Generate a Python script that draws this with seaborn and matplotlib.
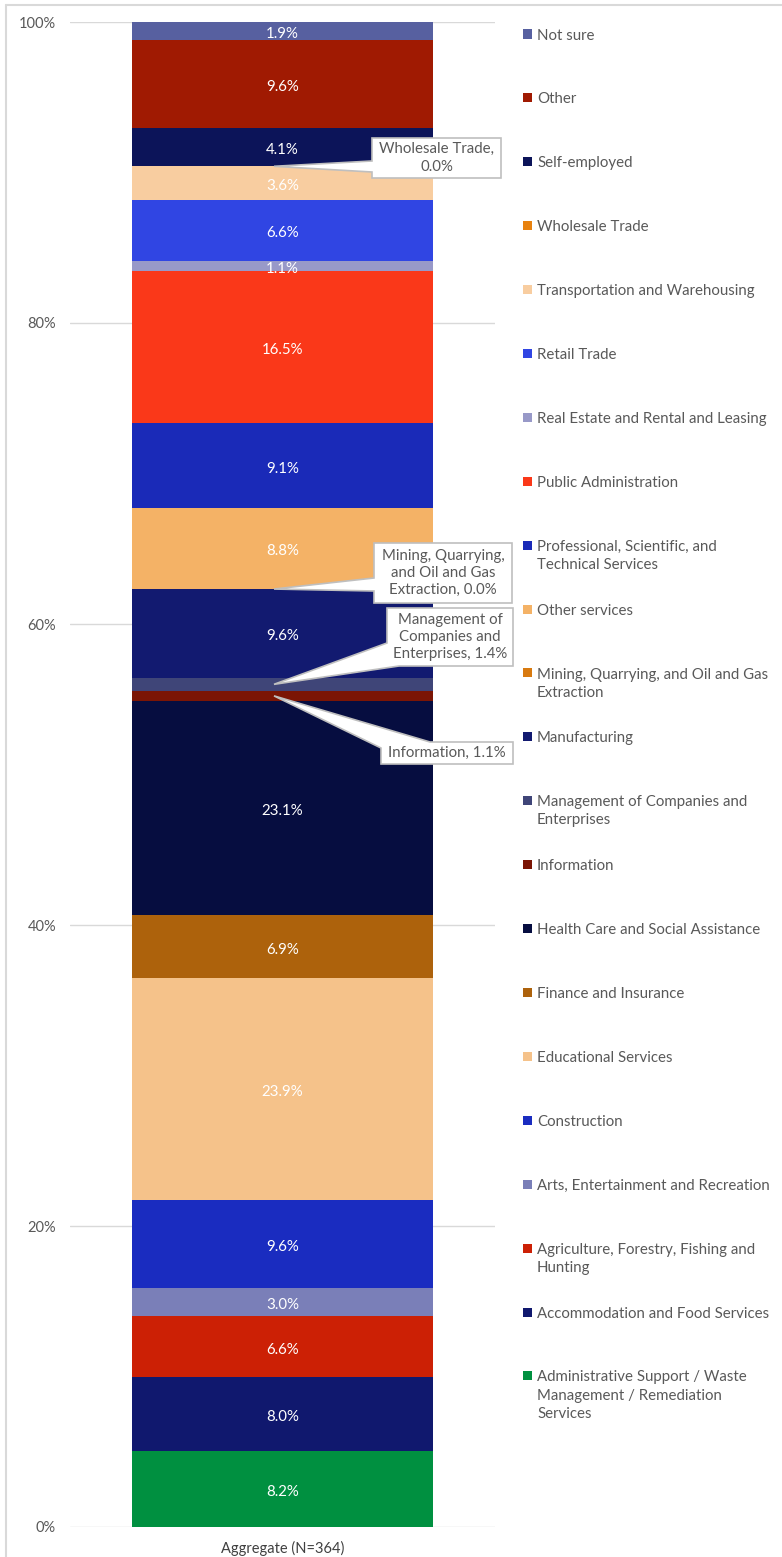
import matplotlib
matplotlib.use("Agg")
import matplotlib.pyplot as plt
from matplotlib.patches import Rectangle, Polygon
from matplotlib.lines import Line2D
from matplotlib.transforms import offset_copy
import pandas as pd
import seaborn as sns

# Industry shares (percent of respondents, multi-select), stacked bottom to top
categories = [
    "Administrative Support / Waste Management / Remediation Services",
    "Accommodation and Food Services",
    "Agriculture, Forestry, Fishing and Hunting",
    "Arts, Entertainment and Recreation",
    "Construction",
    "Educational Services",
    "Finance and Insurance",
    "Health Care and Social Assistance",
    "Information",
    "Management of Companies and Enterprises",
    "Manufacturing",
    "Mining, Quarrying, and Oil and Gas Extraction",
    "Other services",
    "Professional, Scientific, and Technical Services",
    "Public Administration",
    "Real Estate and Rental and Leasing",
    "Retail Trade",
    "Transportation and Warehousing",
    "Wholesale Trade",
    "Self-employed",
    "Other",
    "Not sure",
]
values = [8.2, 8.0, 6.6, 3.0, 9.6, 23.9, 6.9, 23.1, 1.1, 1.4, 9.6, 0.0,
          8.8, 9.1, 16.5, 1.1, 6.6, 3.6, 0.0, 4.1, 9.6, 1.9]
colors = [
    "#009040", "#10186E", "#CC2005", "#7A7FB8", "#1A2CC0", "#F5C28A",
    "#AD620C", "#060D40", "#7B1505", "#3F4578", "#121A70", "#D87A10",
    "#F4B266", "#1A2AB8", "#FA3819", "#9899C8", "#3045E3", "#F8CDA0",
    "#E8820F", "#0C1459", "#A01A02", "#5760A0",
]
# Legend text, wrapped as in the legend column
legend_labels = [
    "Administrative Support / Waste\nManagement / Remediation\nServices",
    "Accommodation and Food Services",
    "Agriculture, Forestry, Fishing and\nHunting",
    "Arts, Entertainment and Recreation",
    "Construction",
    "Educational Services",
    "Finance and Insurance",
    "Health Care and Social Assistance",
    "Information",
    "Management of Companies and\nEnterprises",
    "Manufacturing",
    "Mining, Quarrying, and Oil and Gas\nExtraction",
    "Other services",
    "Professional, Scientific, and\nTechnical Services",
    "Public Administration",
    "Real Estate and Rental and Leasing",
    "Retail Trade",
    "Transportation and Warehousing",
    "Wholesale Trade",
    "Self-employed",
    "Other",
    "Not sure",
]
group_label = "Aggregate (N=364)"
y_ticks = [0, 20, 40, 60, 80, 100]
y_tick_labels = ["0%", "20%", "40%", "60%", "80%", "100%"]

# Categories labelled with a callout instead of an inline value
callout_text = {
    "Wholesale Trade": "Wholesale Trade,\n0.0%",
    "Mining, Quarrying, and Oil and Gas Extraction": "Mining, Quarrying,\nand Oil and Gas\nExtraction, 0.0%",
    "Management of Companies and Enterprises": "Management of\nCompanies and\nEnterprises, 1.4%",
    "Information": "Information, 1.1%",
}

W, H = 782, 1557
GREY_TEXT = "#595959"
FONT = "Lato"

sns.set_theme(style="white")
plt.rcParams["font.family"] = [FONT, "DejaVu Sans"]

fig = plt.figure(figsize=(W / 100, H / 100), dpi=100)
fig.patch.set_facecolor("white")


def fx(px):
    return px / W


def fy(py):
    return 1 - py / H


ax = fig.add_axes([fx(70), fy(1527), fx(495) - fx(70), fy(22) - fy(1527)])

df = pd.DataFrame({"category": categories, "value": values, "color": colors})
df["share"] = df["value"] / df["value"].sum() * 100
df["base"] = df["share"].cumsum() - df["share"]
df["mid"] = df["base"] + df["share"] / 2

# 100% stacked column: one seaborn bar per segment
for _, row in df.iterrows():
    seg = pd.DataFrame({"group": [group_label], "share": [row["share"]]})
    sns.barplot(data=seg, x="group", y="share", color=row["color"],
                saturation=1, width=0.71, errorbar=None, bottom=row["base"],
                edgecolor="none", linewidth=0, ax=ax, zorder=3)

ax.set_xlim(-0.5, 0.5)
ax.set_ylim(0, 100)
ax.set_yticks(y_ticks)
ax.set_yticklabels(y_tick_labels)
ax.set_xlabel("")
ax.set_ylabel("")
for s in ax.spines.values():
    s.set_visible(False)
ax.grid(False)
for t in y_ticks:
    ax.axhline(t, color="#D9D9D9", lw=1.0, zorder=1)
ax.tick_params(axis="y", length=0, pad=10, labelsize=10.5, labelcolor=GREY_TEXT)
ax.tick_params(axis="x", length=0, pad=10, labelsize=10.5, labelcolor="#404040")
for lbl in ax.get_yticklabels() + ax.get_xticklabels():
    lbl.set_fontfamily([FONT, "DejaVu Sans"])

# Inline value labels (nudged slightly below the segment centre)
label_tr = offset_copy(ax.transData, fig=fig, x=0, y=-3, units="dots")
for _, row in df.iterrows():
    if row["category"] in callout_text:
        continue
    ax.text(0, row["mid"], f"{row['value']:.1f}%", ha="center", va="center",
            color="white", fontsize=10.8, zorder=5, transform=label_tr)

# Callouts: box (left, top, right, bottom in px) and pointer base points (px)
callout_layout = {
    "Wholesale Trade": dict(box=(372, 138, 501, 178), base=[(372, 172), (372, 161)]),
    "Mining, Quarrying, and Oil and Gas Extraction": dict(box=(374, 543, 512, 603),
                                                          base=[(374, 591), (374, 578)]),
    "Management of Companies and Enterprises": dict(box=(387, 608, 513, 666),
                                                    base=[(399, 666), (387, 643)]),
    "Information": dict(box=(381, 742, 513, 764), base=[(381, 748), (430, 742)]),
}
to_fig = ax.transData + fig.transFigure.inverted()
for cat, lay in callout_layout.items():
    row = df[df["category"] == cat].iloc[0]
    tip = to_fig.transform((-0.02, row["mid"]))
    x0, y0, x1, y1 = lay["box"]
    b1, b2 = lay["base"]
    # outline goes clockwise from the top-left corner, inserting the pointer
    if b1[0] == x0 and b2[0] == x0:
        pts = [(x0, y0), (x1, y0), (x1, y1), (x0, y1), b1, None, b2]
    elif b1[1] == y1:
        pts = [(x0, y0), (x1, y0), (x1, y1), b1, None, b2]
    else:
        pts = [b2, (x1, y0), (x1, y1), (x0, y1), b1, None]
    verts = [tuple(tip) if p is None else (fx(p[0]), fy(p[1])) for p in pts]
    fig.patches.append(Polygon(verts, closed=True, transform=fig.transFigure,
                               facecolor="white", edgecolor="#BFBFBF", lw=1.2,
                               zorder=6))
    fig.text(fx((x0 + x1) / 2), fy((y0 + y1) / 2), callout_text[cat],
             ha="center", va="center", color=GREY_TEXT, fontsize=10.8,
             linespacing=1.3, zorder=7)

# Legend column, top entry first
n = len(categories)
for i in range(n):
    k = n - 1 - i
    yc = 34 + i * 63.9
    fig.patches.append(Rectangle((fx(523), fy(yc + 4.5)), fx(9), 9 / H,
                                 transform=fig.transFigure,
                                 facecolor=colors[k], edgecolor="none"))
    fig.text(fx(537), fy(yc - 5.5), legend_labels[k], ha="left", va="top",
             color=GREY_TEXT, fontsize=10.8, linespacing=1.38)

# Chart-area frame (top and left edges)
fig.add_artist(Line2D([fx(6), 1], [fy(5), fy(5)], transform=fig.transFigure,
                      color="#D9D9D9", lw=1.5))
fig.add_artist(Line2D([fx(6), fx(6)], [fy(5), 0], transform=fig.transFigure,
                      color="#D9D9D9", lw=1.5))

fig.savefig("out.png", dpi=100, facecolor="white")
